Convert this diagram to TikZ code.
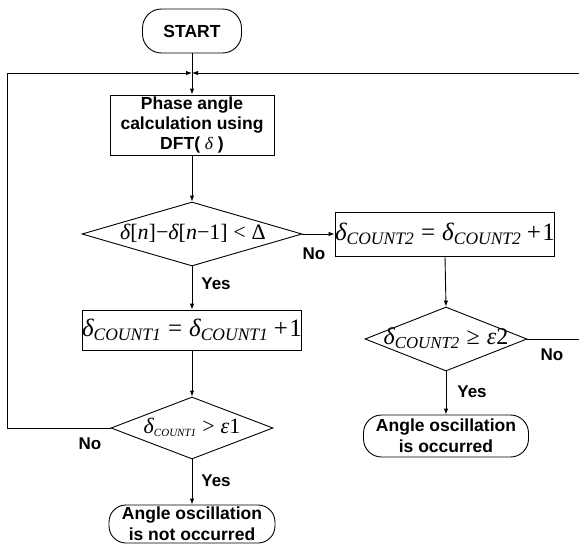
\documentclass[tikz,border=0pt]{standalone}
\usepackage{amsmath}
\usepackage{fontspec}
\setmainfont{Liberation Sans}
\newfontfamily\tms{Liberation Serif}
\usetikzlibrary{shapes.geometric,arrows.meta}
\newcommand\tv[1]{\text{\normalfont\tms #1}}
\newcommand\ti[1]{\text{\normalfont\tms\itshape #1}}
\tikzset{
  ln/.style={draw, line width=0.9pt},
  arr/.style={ln, -{Latex[length=6pt,width=4.5pt]}},
  proc/.style={draw, line width=0.9pt, rectangle, inner sep=0pt, align=center},
  term/.style={draw, line width=0.9pt, rectangle, inner sep=0pt, align=center,
    font=\fontsize{17.5}{21}\selectfont\bfseries},
  dia/.style={draw, line width=0.9pt, diamond, inner sep=0pt},
  lbl/.style={font=\fontsize{17}{19}\selectfont\bfseries, inner sep=0pt},
  frm/.style={inner sep=0pt}
}
\begin{document}
\begin{tikzpicture}[x=1pt,y=-1pt]
\useasboundingbox (0,0) rectangle (579,544);
% nodes
\node[term, rounded corners=19pt, minimum width=99pt, minimum height=44pt] (start) at (192,31) {START};
\coordinate (J) at (192,73);
\node[proc, minimum width=164pt, minimum height=60pt, font=\fontsize{17.5}{20}\selectfont\bfseries] (calc) at (192,125)
  {Phase angle\\calculation using\\DFT( \ti{δ} )};
\node[dia, minimum width=220pt, minimum height=64pt] (d1) at (192,234) {};
\node[frm, font=\fontsize{22}{24}\selectfont] (d1t) at (193,233)
  {$\ti{δ}\tv{[}\ti{n}\tv{]}\tv{−}\ti{δ}\tv{[}\ti{n}\tv{−1]}\mathrel{\tv{<}}\tv{Δ}$};
\node[proc, minimum width=206pt, minimum height=44pt, font=\fontsize{25}{27}\selectfont] (c2) at (445,234)
  {$\ti{δ}_{\ti{COUNT2}}\mathrel{\tv{=}}\ti{δ}_{\ti{COUNT2}}\mathbin{\tv{+}}\!\tv{1}$};
\node[proc, minimum width=203pt, minimum height=40pt, font=\fontsize{25}{27}\selectfont] (c1) at (192,330)
  {$\ti{δ}_{\ti{COUNT1}}\mathrel{\tv{=}}\ti{δ}_{\ti{COUNT1}}\mathbin{\tv{+}}\!\tv{1}$};
\node[dia, minimum width=162pt, minimum height=62pt] (d3) at (192,428) {};
\node[frm, font=\fontsize{22}{24}\selectfont] (d3t) at (192,427)
  {$\ti{δ}_{\scriptscriptstyle\ti{COUNT1}}\mathrel{\tv{>}}\ti{ε}\tv{1}$};
\node[dia, minimum width=162pt, minimum height=64pt] (d2) at (446,339) {};
\node[frm, font=\fontsize{24}{26}\selectfont] (d2t) at (446,338)
  {$\ti{δ}_{\ti{COUNT2}}\mathrel{\tv{≥}}\ti{ε}\tv{2}$};
\node[term, rounded corners=17pt, minimum width=166pt, minimum height=38pt] (t1) at (192,524)
  {Angle oscillation\\is not occurred};
\node[term, rounded corners=18pt, minimum width=165pt, minimum height=42pt] (t2) at (446,436)
  {Angle oscillation\\is occurred};
\coordinate (L) at (7,428);
\coordinate (LT) at (7,73);
\coordinate (R1) at (579,339);
\coordinate (R2) at (579,73);
% connectors
\draw[ln] (start.south) -- (J);
\draw[arr] (J) -- (calc.north);
\draw[ln] (d3.west) -- (L) -- (LT);
\draw[arr] (LT) -- (J);
\draw[arr] (R2) -- (J);
\draw[ln] (d2.east) -- (R1);
\draw[arr] (calc.south) -- (d1.north);
\draw[arr] (d1.east) -- (c2.west);
\draw[arr] (d1.south) -- (c1.north);
\draw[arr] (c1.south) -- (d3.north);
\draw[arr] (d3.south) -- (t1.north);
\draw[arr] (c2.south) -- (d2.north);
\draw[arr] (d2.south) -- (t2.north);
% labels
\node[lbl] (n1) at (314,254) {No};
\node[lbl] (y1) at (216,284) {Yes};
\node[lbl] (n3) at (90,444) {No};
\node[lbl] (y3) at (216,481) {Yes};
\node[lbl] (y2) at (472,392) {Yes};
\node[lbl] (n2) at (552,355) {No};
\end{tikzpicture}
\end{document}
